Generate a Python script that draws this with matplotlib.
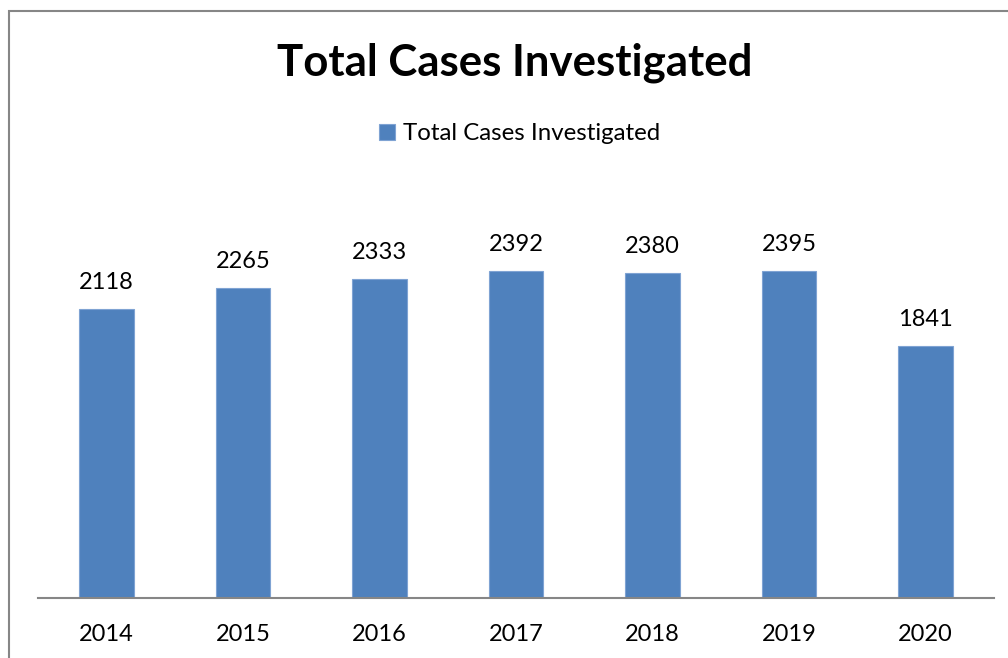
import matplotlib.pyplot as plt
from matplotlib.patches import Rectangle

years = ['2014', '2015', '2016', '2017', '2018', '2019', '2020']
cases = [2118, 2265, 2333, 2392, 2380, 2395, 1841]

bar_color = '#4F81BD'
plt.rcParams['font.family'] = ['Lato', 'DejaVu Sans']

fig = plt.figure(figsize=(10.08, 6.58), dpi=100)
ax = fig.add_axes([38 / 1008, 60 / 658, 956 / 1008, 410 / 658])

bars = ax.bar(years, cases, width=0.4, color=bar_color, edgecolor='#7FA3D3', linewidth=0.8,
              label='Total Cases Investigated')
for b, v in zip(bars, cases):
    ax.annotate(str(v), (b.get_x() + b.get_width() / 2, v), xytext=(0, 11.5),
                textcoords='offset points', ha='center', va='bottom', fontsize=17)

ax.set_ylim(0, 3000)
ax.set_xlim(-0.5, len(years) - 0.5)
ax.set_yticks([])
for s in ['top', 'right', 'left']:
    ax.spines[s].set_visible(False)
ax.spines['bottom'].set_color('#868686')
ax.spines['bottom'].set_linewidth(1.5)
ax.tick_params(axis='x', length=0, pad=19, labelsize=17)

fig.text(515 / 1008, 1 - 63 / 658, 'Total Cases Investigated', ha='center', va='center',
         fontsize=31.5, fontweight='bold')

fig.legend(loc='center', bbox_to_anchor=(520 / 1008, 1 - 134 / 658), frameon=False,
           fontsize=17.3, handlelength=0.65, handleheight=0.65, handletextpad=0.35)

fig.patches.append(Rectangle((9 / 1008, -0.1), 1.2, 1.1 - 11 / 658, transform=fig.transFigure,
                             fill=False, edgecolor='#868686', linewidth=1.5))

fig.savefig('out.png', dpi=100)
